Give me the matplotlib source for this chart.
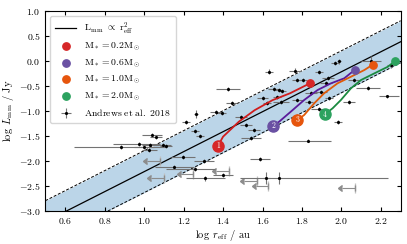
import matplotlib
matplotlib.use("Agg")
import matplotlib.pyplot as plt
import numpy as np

plt.rcParams['font.family'] = 'serif'
plt.rcParams['font.serif'] = ['cmr10', 'DejaVu Serif']
plt.rcParams['mathtext.fontset'] = 'cm'
plt.rcParams['axes.formatter.use_mathtext'] = True
plt.rcParams['axes.unicode_minus'] = True

# Andrews et al. 2018 detections: log r_eff, log L_mm, errors
obs_x = [1.633, 1.424, 1.765, 1.884, 1.967, 1.989, 1.777, 1.803, 1.930, 1.658,
         1.684, 1.700, 1.600, 1.672, 1.443, 1.362, 1.396, 1.489, 1.777, 1.836,
         1.921, 1.896, 2.040, 2.062, 2.150, 2.133, 2.230, 2.251, 1.621, 1.692,
         1.845, 1.884, 1.938, 1.984, 1.557, 1.515, 1.265, 1.213, 1.260, 1.282,
         1.040, 1.062, 0.972, 0.883, 0.998, 1.032, 1.027, 1.096, 1.113, 1.198,
         1.154, 1.260, 1.828, 1.587, 1.540, 1.303, 1.311, 1.400, 1.620, 1.684]
obs_y = [-0.22, -0.57, -0.20, -0.22, -0.04, -0.01, -0.39, -0.39, -0.35, -0.57,
         -0.59, -0.60, -0.75, -0.72, -0.84, -1.02, -1.05, -1.13, -0.79, -0.82,
         -0.45, -0.62, -0.82, -0.39, -0.01, -0.55, -0.71, -0.09, -0.85, -0.82,
         -0.65, -0.97, -0.75, -1.22, -1.39, -1.29, -1.07, -1.23, -1.40, -1.51,
         -1.49, -1.53, -1.67, -1.73, -1.72, -1.69, -1.79, -1.69, -1.71, -1.92,
         -2.13, -2.17, -1.60, -1.97, -1.55, -2.00, -2.35, -2.29, -2.34, -2.34]
obs_xlo = [0.02, 0.06, 0.03, 0.02, 0.02, 0.01, 0.03, 0.02, 0.03, 0.03,
           0.02, 0.02, 0.03, 0.02, 0.03, 0.03, 0.02, 0.03, 0.03, 0.02,
           0.03, 0.03, 0.03, 0.03, 0.05, 0.06, 0.04, 0.02, 0.02, 0.04,
           0.03, 0.04, 0.02, 0.02, 0.03, 0.03, 0.01, 0.02, 0.02, 0.02,
           0.05, 0.03, 0.13, 0.24, 0.05, 0.04, 0.04, 0.04, 0.03, 0.06,
           0.10, 0.15, 0.10, 0.05, 0.05, 0.05, 0.10, 0.05, 0.02, 0.20]
obs_xhi = [0.02, 0.06, 0.03, 0.02, 0.02, 0.01, 0.03, 0.02, 0.03, 0.03,
           0.02, 0.02, 0.03, 0.02, 0.03, 0.03, 0.02, 0.03, 0.03, 0.02,
           0.03, 0.03, 0.03, 0.03, 0.05, 0.06, 0.06, 0.02, 0.02, 0.04,
           0.03, 0.04, 0.02, 0.02, 0.03, 0.03, 0.01, 0.02, 0.02, 0.02,
           0.05, 0.03, 0.11, 0.23, 0.05, 0.04, 0.04, 0.04, 0.03, 0.06,
           0.10, 0.10, 0.12, 0.05, 0.05, 0.05, 0.10, 0.05, 0.02, 0.55]
obs_yerr = [0.05, 0.04, 0.05, 0.04, 0.04, 0.05, 0.04, 0.04, 0.04, 0.04,
            0.04, 0.04, 0.04, 0.04, 0.04, 0.04, 0.04, 0.04, 0.04, 0.04,
            0.04, 0.04, 0.04, 0.04, 0.10, 0.04, 0.03, 0.05, 0.04, 0.04,
            0.04, 0.04, 0.04, 0.04, 0.04, 0.04, 0.08, 0.04, 0.04, 0.04,
            0.04, 0.04, 0.04, 0.04, 0.04, 0.04, 0.04, 0.04, 0.04, 0.04,
            0.04, 0.04, 0.03, 0.04, 0.04, 0.04, 0.05, 0.04, 0.12, 0.12]

# upper limits in r_eff
lim_x = [1.08, 1.10, 1.25, 1.43, 1.57, 1.63, 2.07]
lim_y = [-2.01, -2.35, -2.26, -2.21, -2.40, -2.51, -2.54]

# model tracks (log r_eff, log L_mm)
track_labels = ['0.2', '0.6', '1.0', '2.0']
track_x = [
    [1.374, 1.40, 1.44, 1.48, 1.56, 1.65, 1.74, 1.84],
    [1.653, 1.684, 1.743, 1.811, 1.879, 1.947, 2.014, 2.068],
    [1.777, 1.811, 1.862, 1.912, 1.980, 2.048, 2.116, 2.158],
    [1.916, 1.955, 1.997, 2.048, 2.099, 2.167, 2.235, 2.272],
]
track_y = [
    [-1.706, -1.52, -1.37, -1.22, -0.99, -0.79, -0.65, -0.452],
    [-1.306, -1.22, -1.02, -0.786, -0.586, -0.452, -0.352, -0.18],
    [-1.186, -1.086, -0.852, -0.652, -0.452, -0.32, -0.186, -0.08],
    [-1.072, -0.952, -0.786, -0.552, -0.386, -0.252, -0.12, -0.006],
]
line_colors = ['#d01c1c', '#5a1a9a', '#e05a08', '#1a8a40']
dot_colors = ['#d62728', '#6a51a3', '#e6550d', '#2ca25f']

slope = 2.0
intercept = -4.22
band = 0.42

fig = plt.figure(figsize=(4.07, 2.44), dpi=100)
ax = fig.add_axes([0.1115, 0.1365, 0.873, 0.8195])

xx = np.array([0.5, 2.3])
yy = slope * xx + intercept
ax.fill_between(xx, yy - band, yy + band, color='C0', alpha=0.3, lw=0)
ax.plot(xx, yy + band, 'k--', lw=0.7, dashes=(3, 1.8))
ax.plot(xx, yy - band, 'k--', lw=0.7, dashes=(3, 1.8))
rel_line, = ax.plot(xx, yy, 'k-', lw=0.9)

# upper limits: vertical bar at the limit, arrow pointing to smaller radii
ax.errorbar(lim_x, lim_y, yerr=0.1, fmt='none', ecolor='0.75', elinewidth=0.9)
ax.errorbar(lim_x, lim_y, xerr=0.065, xuplims=True, fmt='none',
            ecolor='0.55', color='0.55', elinewidth=0.8, capsize=2)
obs = ax.errorbar(obs_x, obs_y, xerr=[obs_xlo, obs_xhi], yerr=obs_yerr, fmt='.',
                  color='k', ms=2.5, ecolor='0.45', elinewidth=0.8, zorder=3)

dots = []
for i in range(4):
    ax.plot(track_x[i], track_y[i], '-', color=line_colors[i], lw=1.3, zorder=4)
    d = ax.scatter(track_x[i][-1], track_y[i][-1], s=28, color=dot_colors[i], zorder=5)
    dots.append(d)
    ax.plot(track_x[i][0], track_y[i][0], 'o', ms=8, color=dot_colors[i], zorder=5)
    ax.text(track_x[i][0], track_y[i][0], str(i + 1), color='white', fontsize=5.5,
            ha='center', va='center', zorder=6)

ax.set_xlim(0.5, 2.3)
ax.set_ylim(-3.0, 1.0)
ax.set_xticks([0.6, 0.8, 1.0, 1.2, 1.4, 1.6, 1.8, 2.0, 2.2])
ax.set_yticks([-3.0, -2.5, -2.0, -1.5, -1.0, -0.5, 0.0, 0.5, 1.0])
ax.tick_params(direction='in', top=True, right=True, labelsize=7, length=3)
ax.set_xlabel(r'$\log\ r_\mathrm{eff}$ / au', fontsize=7.5, labelpad=2)
ax.set_ylabel(r'$\log\ L_\mathrm{mm}$ / Jy', fontsize=7.5, labelpad=2)

handles = [rel_line] + dots + [obs]
labels = [r'$\mathrm{L_{mm}\ \propto\ r_{eff}^2}$'] + \
         [r'$\mathrm{M_* = %s M_\odot}$' % t for t in track_labels] + \
         [r'$\mathrm{Andrews\ et\ al.\ 2018}$']
ax.legend(handles, labels, loc='upper left', fontsize=7, frameon=True,
          handlelength=2.2, borderpad=0.5, labelspacing=0.45)

fig.savefig('out.png', dpi=100)
